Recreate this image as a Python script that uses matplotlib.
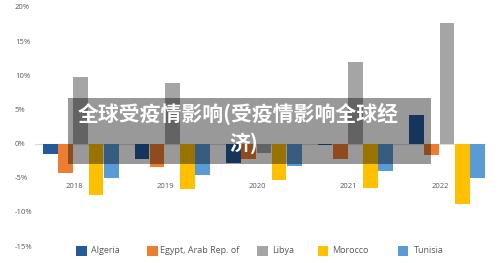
import matplotlib
matplotlib.use("Agg")
import matplotlib.pyplot as plt
from matplotlib.patches import Rectangle
import numpy as np

years = ["2018", "2019", "2020", "2021", "2022"]
countries = ["Algeria", "Egypt, Arab Rep. of", "Libya", "Morocco", "Tunisia"]
algeria = [-1.5, -2.2, -2.9, -0.2, 4.2]
egypt = [-4.3, -3.5, -2.2, -2.2, -1.7]
libya = [9.7, 8.8, -1.4, 11.9, 17.6]
morocco = [-7.6, -6.7, -5.4, -6.5, -8.8]
tunisia = [-5.1, -4.6, -3.3, -4.0, -5.1]
yticks = [20, 15, 10, 5, 0, -5, -10, -15]
ytick_labels = ["20%", "15%", "10%", "5%", "0%", "-5%", "-10%", "-15%"]
title_line1 = "全球受疫情影响(受疫情影响全球经"
title_line2 = "济)"

colors = ["#245A97", "#ED7D31", "#A5A5A5", "#FFC000", "#5B9BD5"]
series = [algeria, egypt, libya, morocco, tunisia]

W, H = 500, 263
fig = plt.figure(figsize=(5.0, 2.63), dpi=100)
ax = fig.add_axes([0.07, 0.0646, 0.9155, 0.9088])
ax.set_xlim(-0.5, 4.5)
ax.set_ylim(-15, 20)

x = np.arange(len(years))
bw = 0.166
ax.plot([-0.5, 4.42], [0, 0], color="#D9D9D9", lw=0.8, zorder=1)
for i, (vals, c) in enumerate(zip(series, colors)):
    ax.bar(x + (i - 2) * bw, vals, width=bw * 0.97, color=c, zorder=2)

for xi, y in zip(x, years):
    ax.text(xi - 0.075, -6.25, y, ha="center", va="center", fontsize=5.5,
            color="#595959", family="Open Sans")

ax.set_xticks([])
ax.set_yticks(yticks)
ax.set_yticklabels(ytick_labels, fontsize=5.5, color="#595959", family="Open Sans")
ax.tick_params(axis="y", length=0, pad=0)
for lbl in ax.get_yticklabels():
    lbl.set_horizontalalignment("left")
    lbl.set_x(-0.0437)
for s in ax.spines.values():
    s.set_visible(False)

# legend (manual placement)
sq_left = [76, 147, 257.3, 317.7, 397.7]
txt_left = [90.7, 159.8, 271.7, 331.7, 414]
for sl, tl, c, name in zip(sq_left, txt_left, colors, countries):
    fig.patches.append(Rectangle((sl / W, (H - 256) / H), 10.5 / W, 10.5 / H,
                                 transform=fig.transFigure, facecolor=c,
                                 edgecolor="none"))
    fig.text(tl / W, (H - 250.8) / H, name, ha="left", va="center", fontsize=6.5,
             color="#595959", family="Open Sans")

fig.patches.append(Rectangle((0.136, 0.375), 0.726, 0.254, transform=fig.transFigure,
                             facecolor="black", alpha=0.4, edgecolor="none", zorder=5))
fig.text(0.477, 0.567, title_line1, ha="center", va="center", fontsize=15,
         color="white", fontweight="bold", family=["Noto Sans CJK SC", "DejaVu Sans"], zorder=6)
fig.text(0.487, 0.454, title_line2, ha="center", va="center", fontsize=15,
         color="white", fontweight="bold", family=["Noto Sans CJK SC", "DejaVu Sans"], zorder=6)

fig.savefig("out.png", dpi=100)
